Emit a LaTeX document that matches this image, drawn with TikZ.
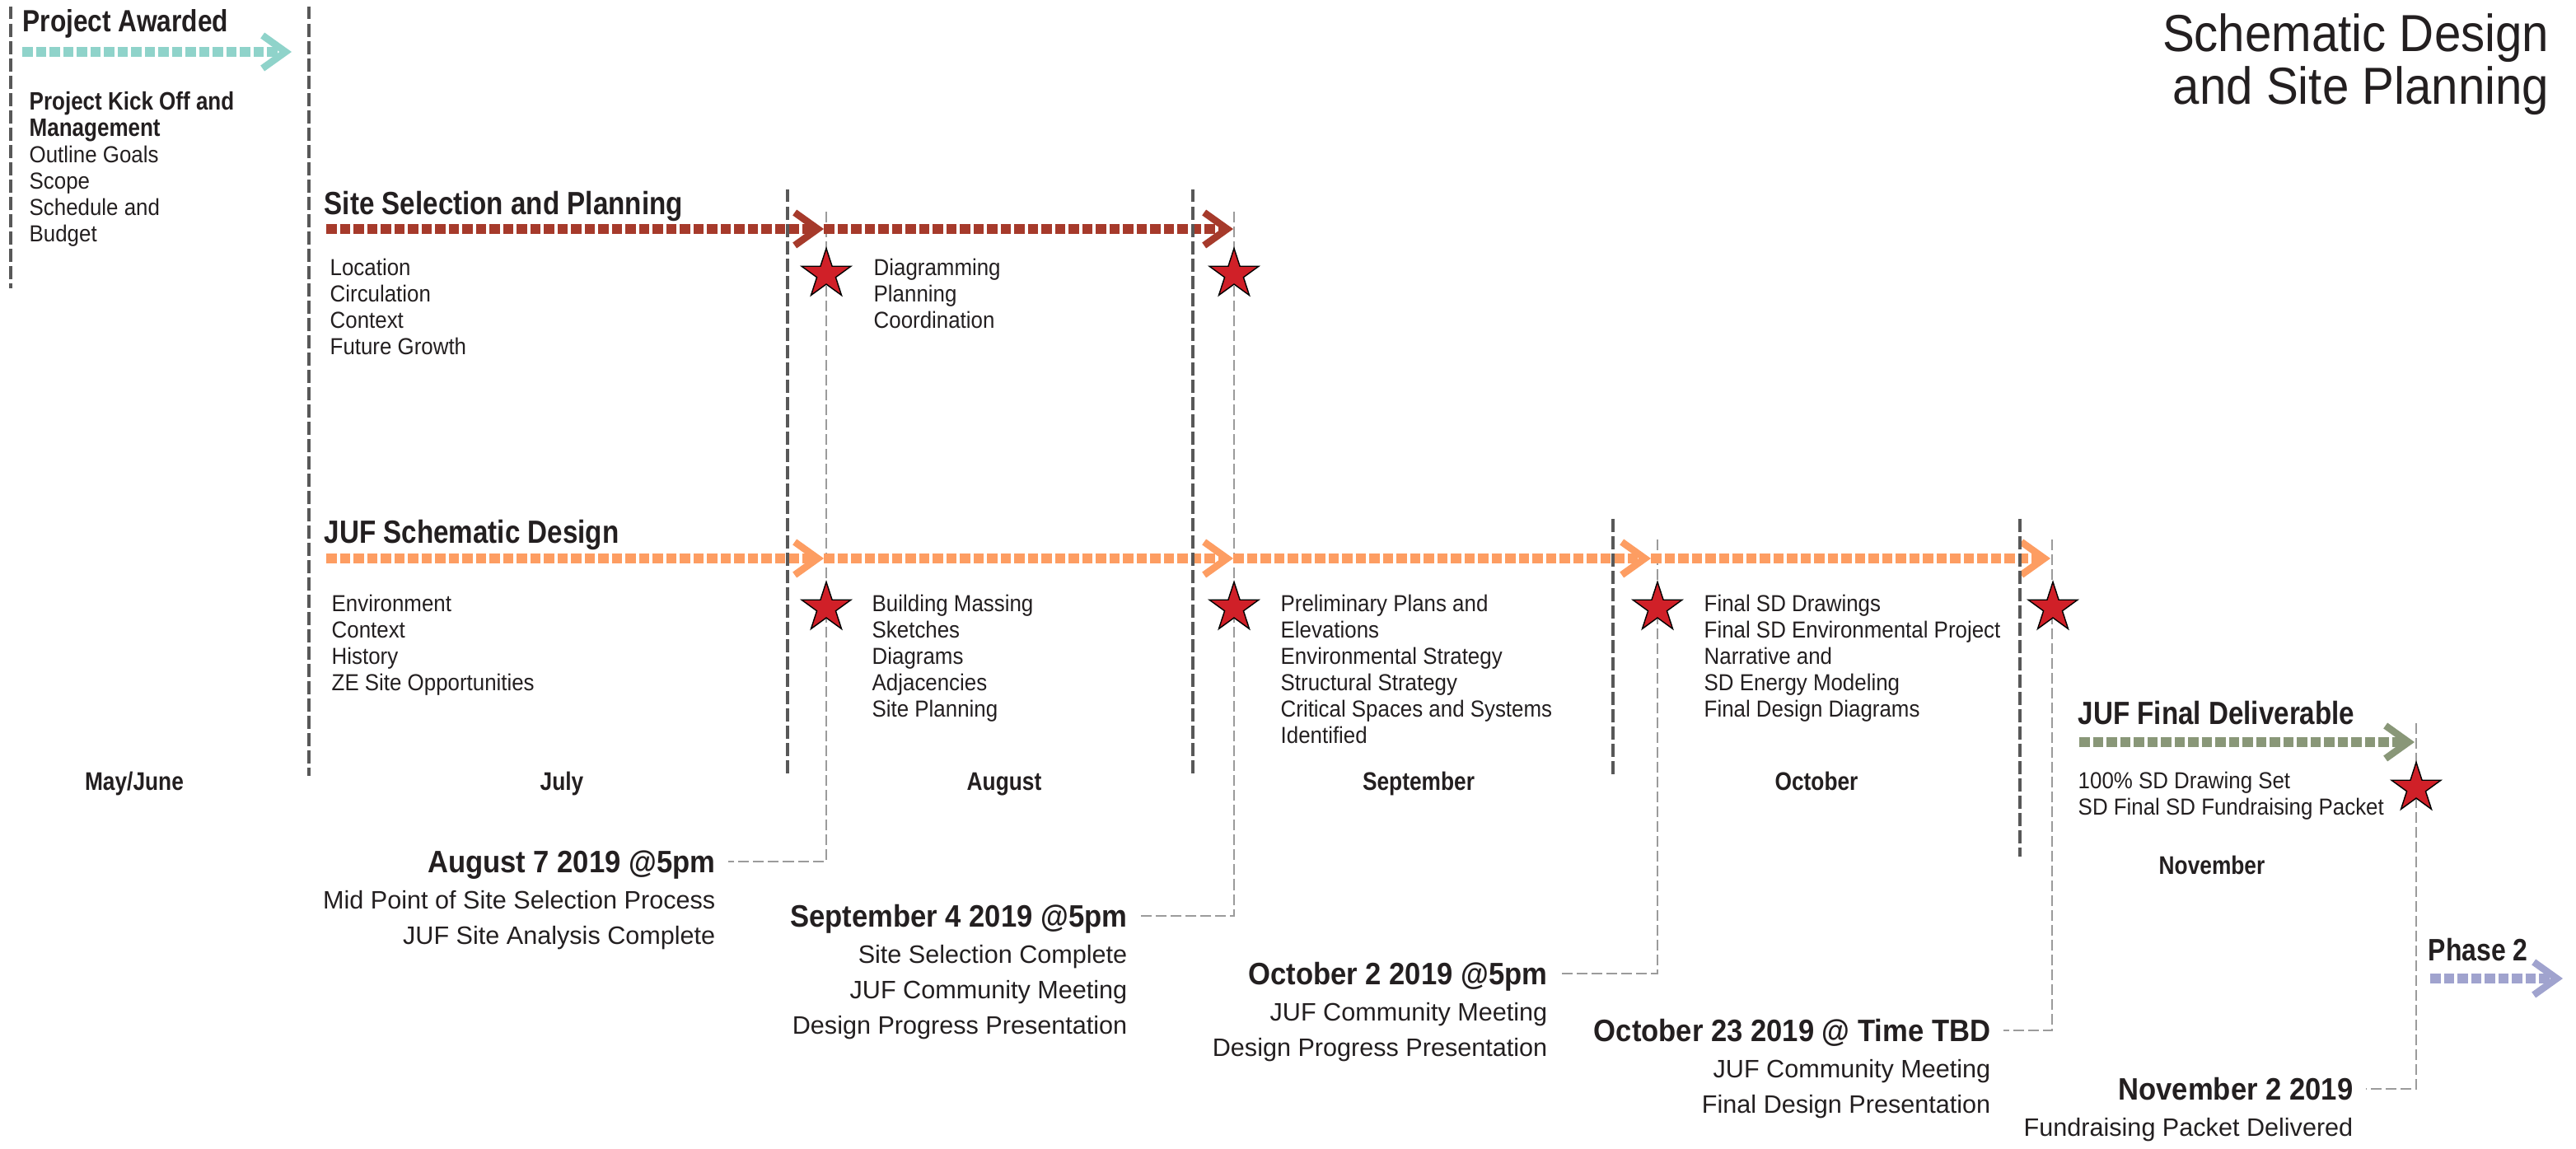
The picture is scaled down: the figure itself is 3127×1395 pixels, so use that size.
\documentclass[tikz,border=0pt]{standalone}
\usepackage{fontspec}
\setmainfont{Liberation Sans}
\newfontfamily\narrowfont{Liberation Sans}[FakeStretch=0.85]
\newfontfamily\semifont{Liberation Sans}[FakeStretch=0.92]
\usetikzlibrary{arrows.meta, shapes.geometric, positioning}

\definecolor{ink}{RGB}{35,31,32}
\definecolor{awardteal}{RGB}{143,211,202}
\definecolor{sitered}{RGB}{166,58,43}
\definecolor{sdorange}{RGB}{253,157,98}
\definecolor{delivgreen}{RGB}{137,151,120}
\definecolor{phaselilac}{RGB}{160,163,206}
\definecolor{starred}{RGB}{208,32,40}
\definecolor{divgray}{RGB}{88,88,88}
\definecolor{leadgray}{RGB}{155,155,155}

\newcommand\kickfont{\narrowfont\bfseries\fontsize{8.7}{9.1}\selectfont}

\begin{document}
\begin{tikzpicture}
[
	x	= 0.01cm,	% one unit per pixel of the sheet
	y	= -0.01cm,	% rows counted downwards
	%
	%
	% ----------- text --------------
	% (multi-line nodes sit on the baseline of their last line)
	every node/.style =
	{
		text		= ink,
		inner sep	= 0pt
	},
	%
	title/.style =
	{
		align	= right,
		anchor	= base east,
		font	= \semifont\fontsize{18}{18.2}\selectfont
	},
	%
	heading/.style =
	{
		anchor	= base west,
		font	= \narrowfont\bfseries\fontsize{11.1}{13}\selectfont
	},
	%
	items/.style =
	{
		align	= left,
		anchor	= base west,
		font	= \semifont\fontsize{8}{9.1}\selectfont
	},
	%
	month/.style =
	{
		anchor	= base,
		font	= \narrowfont\bfseries\fontsize{8.8}{9.1}\selectfont
	},
	%
	date/.style =
	{
		anchor		= east,
		inner xsep	= 0.15cm,
		text depth	= 0pt,
		font		= \semifont\bfseries\fontsize{10.7}{12.2}\selectfont
	},
	%
	datesub/.style =
	{
		align	= right,
		font	= \fontsize{8.7}{12.2}\selectfont
	},
	%
	%
	% ----------- lines and marks --------------
	timeline bar/.style =
	{
		line width	= 0.115cm,
		dash pattern	= on 0.125cm off 0.04cm,
		-{Straight Barb[length=0.28cm, width=0.40cm, line width=0.085cm, sharp]}
	},
	%
	divider/.style =
	{
		draw		= divgray,
		line width	= 0.04cm,
		dash pattern	= on 0.155cm off 0.055cm
	},
	%
	leader/.style =
	{
		draw		= leadgray,
		line width	= 0.02cm,
		dash pattern	= on 0.13cm off 0.05cm
	},
	%
	milestone/.style =
	{
		star,
		star points		= 5,
		star point ratio	= 2.618,
		minimum size		= 0.63cm,
		fill			= starred,
		draw			= black,
		line width		= 0.4pt
	}
]

\useasboundingbox (0,0) rectangle (3127,1395);


% title in the corner
\node [title] (title) at (3095,127) {Schematic Design\\and Site Planning};


% month columns
\node [month] (mayjune)		at (163,959)	{May/June};
\node [month] (july)		at (682,959)	{July};
\node [month] (august)		at (1219,959)	{August};
\node [month] (september)	at (1722,959)	{September};
\node [month] (october)		at (2205,959)	{October};
\node [month] (november)	at (2685,1061)	{November};


% phase headings and their task lists
\node [heading, font=\narrowfont\bfseries\fontsize{10.6}{13}\selectfont] (awarded) at (27,39) {Project Awarded};
\node [items] (kickoff) at (35,294)
	{{\kickfont Project Kick Off and}\\{\kickfont Management}\\Outline Goals\\Scope\\Schedule and\\Budget};

\node [heading] (sitesel) at (393,261) {Site Selection and Planning};
\node [items] (location)	at (400,431)	{Location\\Circulation\\Context\\Future Growth};
\node [items] (diagramming)	at (1060,399)	{Diagramming\\Planning\\Coordination};

\node [heading] (schematic) at (393,660) {JUF Schematic Design};
\node [items] (environment)	at (402,839)	{Environment\\Context\\History\\ZE Site Opportunities};
\node [items] (massing)		at (1058,871)	{Building Massing\\Sketches\\Diagrams\\Adjacencies\\Site Planning};
\node [items] (prelim)		at (1554,903)	{Preliminary Plans and\\Elevations\\Environmental Strategy\\Structural Strategy\\Critical Spaces and Systems\\Identified};
\node [items] (finalsd)		at (2068,871)	{Final SD Drawings\\Final SD Environmental Project\\Narrative and\\SD Energy Modeling\\Final Design Diagrams};

\node [heading] (deliverable) at (2522,880) {JUF Final Deliverable};
\node [items] (drawingset) at (2522,990) {100\% SD Drawing Set\\SD Final SD Fundraising Packet};

\node [heading, font=\narrowfont\bfseries\fontsize{10.7}{13}\selectfont] (phase2) at (2947,1166) {Phase 2};


% milestone dates
\node [date] (aug)	at (884,1046)	{August 7 2019 @5pm};
\node [datesub, below left = 0.21cm and 0.15cm of aug.base east] (aug-note)
	{Mid Point of Site Selection Process\\JUF Site Analysis Complete};

\node [date] (sep)	at (1384,1112)	{September 4 2019 @5pm};
\node [datesub, below left = 0.21cm and 0.15cm of sep.base east] (sep-note)
	{Site Selection Complete\\JUF Community Meeting\\Design Progress Presentation};

\node [date] (oct2)	at (1894,1182)	{October 2 2019 @5pm};
\node [datesub, below left = 0.21cm and 0.15cm of oct2.base east] (oct2-note)
	{JUF Community Meeting\\Design Progress Presentation};

\node [date] (oct23)	at (2432,1251)	{October 23 2019 @ Time TBD};
\node [datesub, below left = 0.21cm and 0.15cm of oct23.base east] (oct23-note)
	{JUF Community Meeting\\Final Design Presentation};

\node [date] (nov2)	at (2872,1322)	{November 2 2019};
\node [datesub, below left = 0.21cm and 0.15cm of nov2.base east] (nov2-note)
	{Fundraising Packet Delivered};


% leaders from the timeline down to the dates
\coordinate (lead-aug)		at (1003,257);
\coordinate (lead-sep)		at (1498,257);
\coordinate (lead-oct2)		at (2012,655);
\coordinate (lead-oct23)	at (2491,655);
\coordinate (lead-nov2)		at (2933,878);

\draw [leader] (lead-aug)	|- (aug.east);
\draw [leader] (lead-sep)	|- (sep.east);
\draw [leader] (lead-oct2)	|- (oct2.east);
\draw [leader] (lead-oct23)	|- (oct23.east);
\draw [leader] (lead-nov2)	|- (nov2.east);


% timeline bars
\coordinate (pa-start)	at (27,63);
\coordinate (pa-end)	at (354,63);
\coordinate (ss-start)	at (396,278);
\coordinate (ss-mid)	at (1000,278);
\coordinate (ss-end)	at (1497,278);
\coordinate (sd-start)	at (396,678);
\coordinate (sd-aug)	at (1000,678);
\coordinate (sd-sep)	at (1497,678);
\coordinate (sd-oct)	at (2004,678);
\coordinate (sd-end)	at (2489,678);
\coordinate (fd-start)	at (2524,901);
\coordinate (fd-end)	at (2931,901);
\coordinate (p2-start)	at (2950,1188);
\coordinate (p2-end)	at (3111,1188);

\draw [timeline bar, draw=awardteal]	(pa-start) -- (pa-end);
\draw [timeline bar, draw=sitered]	(ss-start) -- (ss-mid);
\draw [timeline bar, draw=sitered]	(ss-mid) -- (ss-end);
\draw [timeline bar, draw=sdorange]	(sd-start) -- (sd-aug);
\draw [timeline bar, draw=sdorange]	(sd-aug) -- (sd-sep);
\draw [timeline bar, draw=sdorange]	(sd-sep) -- (sd-oct);
\draw [timeline bar, draw=sdorange]	(sd-oct) -- (sd-end);
\draw [timeline bar, draw=delivgreen]	(fd-start) -- (fd-end);
\draw [timeline bar, draw=phaselilac]	(p2-start) -- (p2-end);


% month dividers
\draw [divider] (13,8)		-- (13,350);
\draw [divider] (375,8)		-- (375,942);
\draw [divider] (956,230)	-- (956,942);
\draw [divider] (1448,230)	-- (1448,942);
\draw [divider] (1958,630)	-- (1958,942);
\draw [divider] (2452,630)	-- (2452,1040);


% milestone stars
\node [milestone] (star-ss1)	at (1003,333) {};
\node [milestone] (star-ss2)	at (1498,333) {};
\node [milestone] (star-sd1)	at (1003,738) {};
\node [milestone] (star-sd2)	at (1498,738) {};
\node [milestone] (star-sd3)	at (2012,738) {};
\node [milestone] (star-sd4)	at (2492,738) {};
\node [milestone] (star-fd)	at (2933,957) {};



\end{tikzpicture}
\end{document}
